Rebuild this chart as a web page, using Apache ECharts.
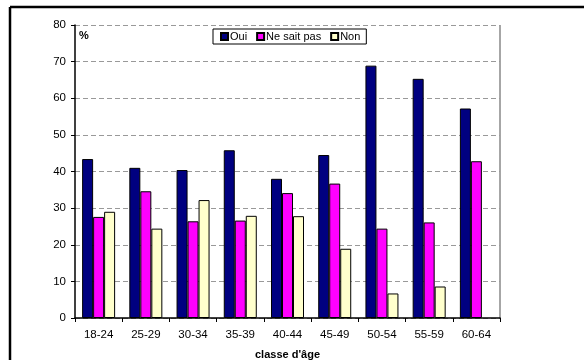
<!DOCTYPE html>
<html>
<head>
<meta charset="utf-8">
<script src="https://cdn.jsdelivr.net/npm/echarts@6/dist/echarts.min.js"></script>
<style>
  html, body { margin: 0; padding: 0; background: #fff; }
  #chart { width: 584px; height: 360px; }
</style>
</head>
<body>
<div id="chart"></div>
<script>
// Age groups and answer shares (%)
var categories = ['18-24', '25-29', '30-34', '35-39', '40-44', '45-49', '50-54', '55-59', '60-64'];
var oui        = [43.4, 41.0, 40.4, 45.8, 38.0, 44.5, 68.9, 65.3, 57.2];
var neSaitPas  = [27.6, 34.6, 26.4, 26.6, 34.1, 36.7, 24.4, 26.1, 42.8];
var non        = [29.0, 24.4, 32.2, 27.9, 27.8, 18.9, 6.7, 8.6, null];
var yTicks     = { min: 0, max: 80, step: 10 };

var font = 'Arial, "Liberation Sans", sans-serif';

function barSeries(name, data, color) {
  return {
    name: name,
    type: 'bar',
    data: data,
    barWidth: 11,
    barGap: '0%',
    itemStyle: { color: color, borderColor: '#000', borderWidth: 1 }
  };
}

var chart = echarts.init(document.getElementById('chart'));
chart.setOption({
  animation: false,
  backgroundColor: '#fff',
  grid: { left: 75, right: 84, top: 25, bottom: 42, outerBoundsMode: 'none', containLabel: false },
  legend: {
    top: 29, left: 213,
    itemWidth: 7, itemHeight: 7, itemGap: 9,
    icon: 'rect',
    borderColor: '#000', borderWidth: 1,
    padding: [2, 6, 2, 7],
    textStyle: { fontFamily: font, fontSize: 11, color: '#000', padding: [0, 0, 0, -3] },
    data: ['Oui', 'Ne sait pas', 'Non']
  },
  xAxis: {
    type: 'category',
    data: categories,
    name: "classe d'âge",
    nameLocation: 'middle',
    nameGap: 31,
    nameTextStyle: { fontFamily: font, fontSize: 11, fontWeight: 'bold', color: '#000' },
    axisLine: { lineStyle: { color: '#000', width: 1.5 } },
    axisTick: { show: true, length: 4, lineStyle: { color: '#000' } },
    axisLabel: { fontFamily: font, fontSize: 11.5, color: '#000', margin: 11 }
  },
  yAxis: {
    type: 'value',
    min: yTicks.min, max: yTicks.max, interval: yTicks.step,
    axisLine: { show: true, lineStyle: { color: '#000', width: 1.5 } },
    axisTick: { show: true, length: 4, lineStyle: { color: '#000' } },
    axisLabel: { fontFamily: font, fontSize: 11.5, color: '#000', margin: 9 },
    splitLine: { show: true, lineStyle: { color: '#999', type: [5, 3], width: 1 } }
  },
  series: [
    barSeries('Oui', oui, '#000080'),
    barSeries('Ne sait pas', neSaitPas, '#FF00FF'),
    barSeries('Non', non, '#FFFFCC')
  ],
  graphic: [
    // outer frame (left and top edges)
    { type: 'line', shape: { x1: 10, y1: 7, x2: 10, y2: 360 }, style: { stroke: '#000', lineWidth: 2.5 } },
    { type: 'line', shape: { x1: 10, y1: 7, x2: 584, y2: 7 }, style: { stroke: '#000', lineWidth: 2.5 } },
    // plot area right edge
    { type: 'line', shape: { x1: 500, y1: 25, x2: 500, y2: 319 }, style: { stroke: '#888', lineWidth: 1.5 } },
    // unit label
    { type: 'text', left: 79, top: 30, style: { text: '%', font: 'bold 11px ' + font, fill: '#000' } }
  ]
});
</script>
</body>
</html>
